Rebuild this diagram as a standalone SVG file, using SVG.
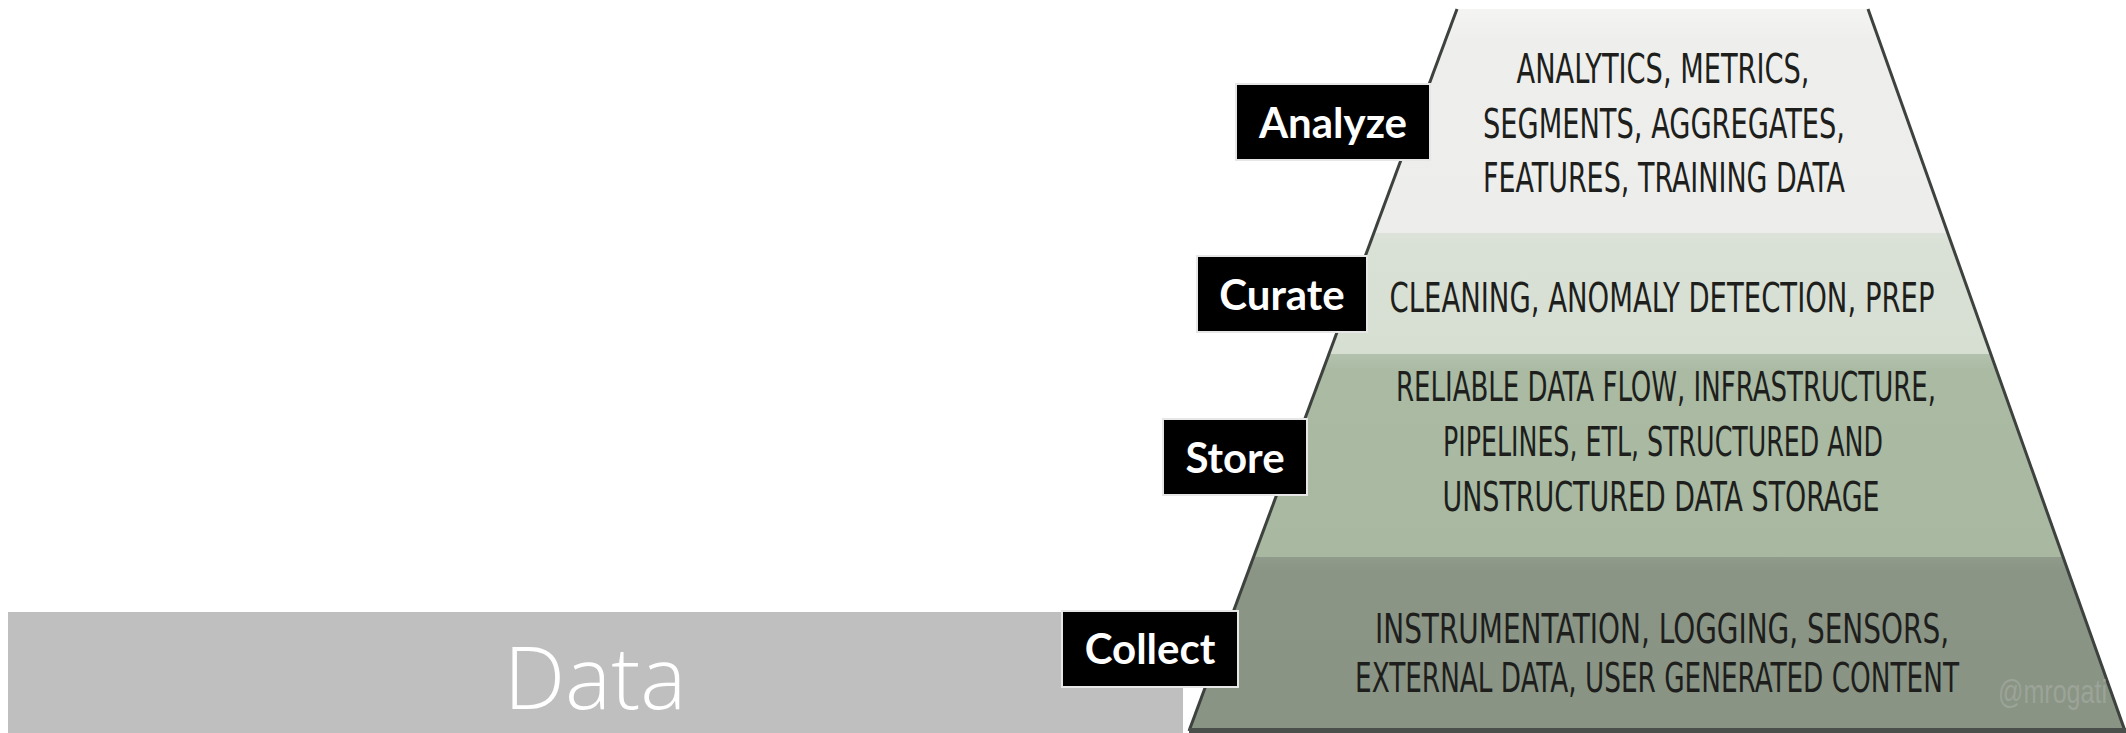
<svg xmlns="http://www.w3.org/2000/svg" width="2126" height="733" viewBox="0 0 2126 733">
  <style>
    .lbl-box { fill: #000000; stroke: #e6e6e6; stroke-width: 2; }
    .lbl-txt { font-family: Lato, "Open Sans", "Liberation Sans", sans-serif; font-weight: 700; font-size: 42px; fill: #ffffff; text-anchor: middle; }
    .pyr-txt { font-family: "Liberation Sans Narrow", "DejaVu Sans Condensed", "Liberation Sans", sans-serif; font-size: 40px; fill: #1e1f1d; text-anchor: middle; }
    .data-txt { font-family: "Open Sans", Lato, "Liberation Sans", sans-serif; font-weight: 300; font-size: 87px; fill: #ffffff; text-anchor: middle; }
    .mark { font-family: "Liberation Sans Narrow", "Liberation Sans", sans-serif; font-size: 33px; fill: #9ca398; }
  </style>
  <defs>
    <clipPath id="trap">
      <polygon points="1457,9 1868,9 2125,730 1189,730"/>
    </clipPath>
    <linearGradient id="gTop" x1="0" y1="0" x2="0" y2="1">
      <stop offset="0" stop-color="#f4f4f3"/>
      <stop offset="0.15" stop-color="#eeefec"/>
      <stop offset="1" stop-color="#edeeeb"/>
    </linearGradient>
    <linearGradient id="gCur" x1="0" y1="0" x2="0" y2="1">
      <stop offset="0" stop-color="#dde3da"/>
      <stop offset="0.1" stop-color="#d9e0d5"/>
      <stop offset="1" stop-color="#d7dfd3"/>
    </linearGradient>
    <linearGradient id="gSto" x1="0" y1="0" x2="0" y2="1">
      <stop offset="0" stop-color="#b3c2ad"/>
      <stop offset="0.08" stop-color="#aabaa3"/>
      <stop offset="1" stop-color="#a8b8a1"/>
    </linearGradient>
    <linearGradient id="gCol" x1="0" y1="0" x2="0" y2="1">
      <stop offset="0" stop-color="#909b8c"/>
      <stop offset="0.08" stop-color="#8a9586"/>
      <stop offset="1" stop-color="#899484"/>
    </linearGradient>
  </defs>

  <rect x="0" y="0" width="2126" height="733" fill="#ffffff"/>

  <g id="data-bar">
    <rect x="8" y="612" width="1175" height="121" fill="#bfbfbf"/>
    <text class="data-txt" x="595" y="709">Data</text>
  </g>

  <g id="pyramid">
    <g clip-path="url(#trap)">
      <g id="layer-analyze">
        <rect x="1180" y="9" width="950" height="224" fill="url(#gTop)"/>
      </g>
      <g id="layer-curate">
        <rect x="1180" y="233" width="950" height="121" fill="url(#gCur)"/>
      </g>
      <g id="layer-store">
        <rect x="1180" y="354" width="950" height="203" fill="url(#gSto)"/>
      </g>
      <g id="layer-collect">
        <rect x="1180" y="557" width="950" height="173" fill="url(#gCol)"/>
      </g>
    </g>
    <line x1="1457" y1="9" x2="1189" y2="731" stroke="#3d423e" stroke-width="3"/>
    <line x1="1868" y1="9" x2="2125" y2="731" stroke="#3d423e" stroke-width="3"/>
    <rect x="1189" y="728" width="937" height="5" fill="#4a4f4b"/>

    <text class="pyr-txt" x="1663" y="83" textLength="293" lengthAdjust="spacingAndGlyphs">ANALYTICS, METRICS,</text>
    <text class="pyr-txt" x="1664" y="138" textLength="362" lengthAdjust="spacingAndGlyphs">SEGMENTS, AGGREGATES,</text>
    <text class="pyr-txt" x="1664" y="192" textLength="362" lengthAdjust="spacingAndGlyphs">FEATURES, TRAINING DATA</text>

    <text class="pyr-txt" x="1662" y="312" textLength="545" lengthAdjust="spacingAndGlyphs">CLEANING, ANOMALY DETECTION, PREP</text>

    <text class="pyr-txt" x="1666" y="401" textLength="540" lengthAdjust="spacingAndGlyphs">RELIABLE DATA FLOW, INFRASTRUCTURE,</text>
    <text class="pyr-txt" x="1663" y="456" textLength="440" lengthAdjust="spacingAndGlyphs">PIPELINES, ETL, STRUCTURED AND</text>
    <text class="pyr-txt" x="1661" y="511" textLength="437" lengthAdjust="spacingAndGlyphs">UNSTRUCTURED DATA STORAGE</text>

    <text class="pyr-txt" x="1662" y="643" textLength="574" lengthAdjust="spacingAndGlyphs">INSTRUMENTATION, LOGGING, SENSORS,</text>
    <text class="pyr-txt" x="1657" y="692" textLength="604" lengthAdjust="spacingAndGlyphs">EXTERNAL DATA, USER GENERATED CONTENT</text>

    <text class="mark" x="1998" y="703" textLength="109" lengthAdjust="spacingAndGlyphs">@mrogati</text>
  </g>

  <g id="connectors"></g>

  <g id="label-analyze">
    <rect class="lbl-box" x="1236" y="84" width="194" height="76"/>
    <text class="lbl-txt" x="1333" y="138">Analyze</text>
  </g>
  <g id="label-curate">
    <rect class="lbl-box" x="1197" y="256" width="170" height="76"/>
    <text class="lbl-txt" x="1282" y="310">Curate</text>
  </g>
  <g id="label-store">
    <rect class="lbl-box" x="1163" y="419" width="144" height="76"/>
    <text class="lbl-txt" x="1235" y="473">Store</text>
  </g>
  <g id="label-collect">
    <rect class="lbl-box" x="1062" y="611" width="176" height="76"/>
    <text class="lbl-txt" x="1150" y="664">Collect</text>
  </g>
</svg>
